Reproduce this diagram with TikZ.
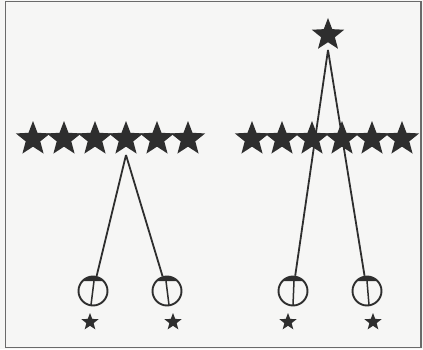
\documentclass[tikz,border=0pt]{standalone}
\usetikzlibrary{shapes.geometric}
\definecolor{ink}{HTML}{2E2E2E}
\definecolor{paper}{HTML}{F6F6F5}
\definecolor{frame}{HTML}{6A6A6A}
\begin{document}
\begin{tikzpicture}[x=1pt,y=1pt,
  bigstar/.style={star,star points=5,star point ratio=2.35,fill=ink,draw=none,inner sep=0pt,minimum size=36pt},
  smallstar/.style={bigstar,minimum size=18pt},
  bob/.style={circle,draw=ink,line width=1.9pt,minimum size=29pt,inner sep=0pt},
  rod/.style={draw=ink,line width=1.8pt}]
\fill[paper] (0,0) rectangle (423,349);
\useasboundingbox (0,0) rectangle (423,349);
\draw[frame,line width=1.2pt] (5.5,1.5) rectangle (421,347.5);
% rows of stars
\foreach \i/\x in {1/33,2/64,3/95,4/126,5/157,6/188}
  \node[bigstar] (l\i) at (\x,210) {};
\foreach \i/\x in {1/252,2/282,3/312,4/342,5/372,6/402}
  \node[bigstar] (r\i) at (\x,210) {};
\node[bigstar,minimum size=34pt] (top) at (328,314) {};
% apexes
\coordinate (la) at (126,194);
\coordinate (ra) at (328,299);
% bobs
\node[bob] (c1) at (93,58) {};
\node[bob] (c2) at (167,58) {};
\node[bob] (c3) at (293,58) {};
\node[bob] (c4) at (367,58) {};
% rods
\draw[rod] (la) -- (c1);
\draw[rod] (la) -- (c2);
\draw[rod] (ra) -- (c3);
\draw[rod] (ra) -- (c4);
% caps and stems
\foreach \c/\a/\b in {c1/1/-2,c2/-1/2,c3/1/0,c4/0/2}{
  \fill[ink] ([shift={(-10.4,10)}]\c.center) arc[start angle=136,end angle=44,radius=14.5] -- cycle;
  \draw[rod,line width=1.5pt] ([shift={(\a,10)}]\c.center) -- ([shift={(\b,-14)}]\c.center);
}
% small stars
\node[smallstar] (s1) at (90,27) {};
\node[smallstar] (s2) at (173,27) {};
\node[smallstar] (s3) at (288,27) {};
\node[smallstar] (s4) at (373,27) {};
\end{tikzpicture}
\end{document}
